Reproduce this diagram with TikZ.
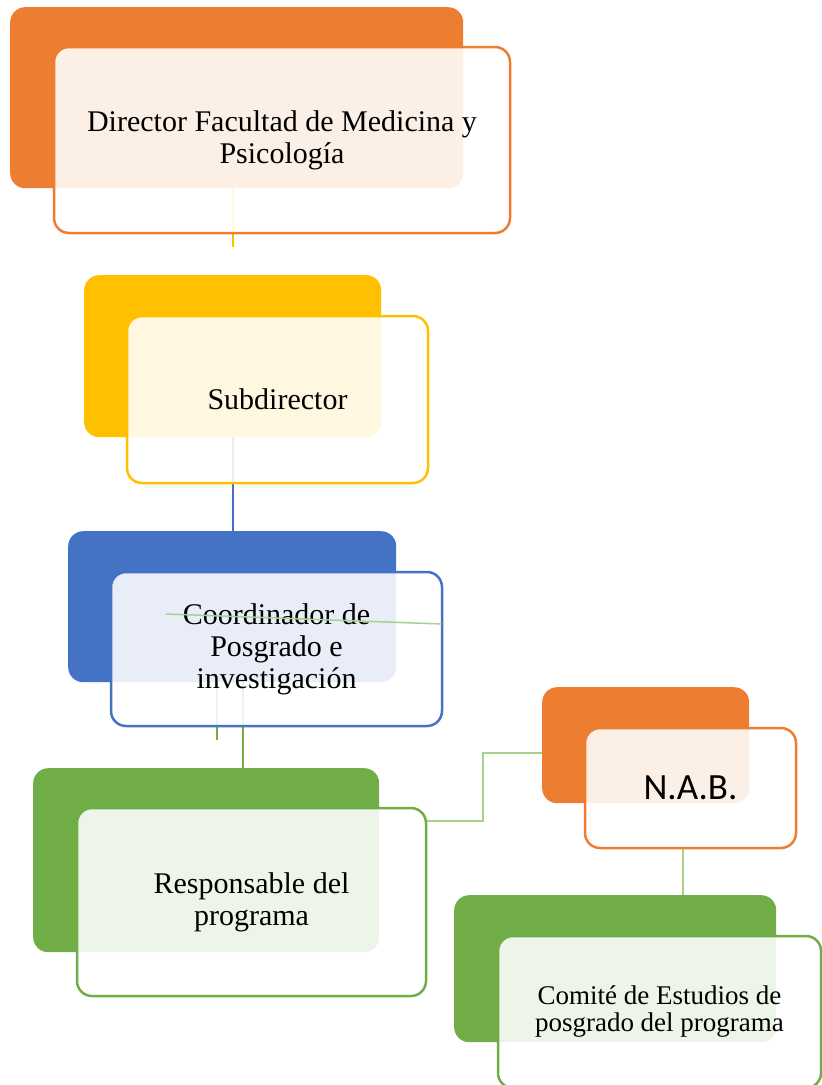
\documentclass[tikz,border=0pt]{standalone}
\usepackage{fontspec}
\setmainfont{Liberation Serif}
\newfontfamily\calib{Carlito}
\definecolor{orng}{HTML}{ED7D31}
\definecolor{yllw}{HTML}{FFC000}
\definecolor{blu}{HTML}{4472C4}
\definecolor{grn}{HTML}{70AD47}
\definecolor{lgrn}{HTML}{A9D18E}
\tikzset{
  backbox/.style={rectangle, rounded corners=15pt, fill=#1, draw=none, anchor=north west, inner sep=0pt},
  frontbox/.style={rectangle, rounded corners=15pt, draw=#1, line width=2.5pt, fill=white, fill opacity=0.88, text opacity=1, align=center, inner sep=0pt, font=\fontsize{30}{32}\selectfont},
  conn/.style={line width=2pt, draw=#1},
}
\begin{document}
\begin{tikzpicture}[x=1pt,y=-1pt]
\clip (0,0) rectangle (822,1085);
\fill[white] (0,0) rectangle (822,1085);
% back boxes
\node[backbox=orng, minimum width=453pt, minimum height=181pt] (dirback) at (10,7) {};
\node[backbox=yllw, minimum width=297pt, minimum height=162pt] (subback) at (84,275) {};
\node[backbox=blu, minimum width=328pt, minimum height=151pt] (coordback) at (68,531) {};
\node[backbox=grn, minimum width=346pt, minimum height=184pt] (respback) at (33,768) {};
\node[backbox=orng, minimum width=207pt, minimum height=116pt] (nabback) at (542,687) {};
\node[backbox=grn, minimum width=322pt, minimum height=147pt] (comback) at (454,895) {};
% connectors
\coordinate (c1) at (233,247);
\draw[conn=yllw] (dirback.south -| c1) -- (c1);
\coordinate (c2) at (233,500);
\draw[conn=blu] (subback.south -| c2) -- (coordback.north -| c2);
\coordinate (c3) at (243,700);
\draw[conn=grn] (coordback.south -| c3) -- (respback.north -| c3);
\coordinate (c4) at (217,740);
\draw[conn=grn] (coordback.south -| c4) -- (c4);
\coordinate (ra) at (427,821);
\coordinate (rb) at (483,753);
\coordinate (rc) at (683,870);
% front boxes
\node[frontbox=orng, minimum width=456pt, minimum height=186pt] (dirfront) at (282,140) {Director Facultad de Medicina y\\Psicología};
\node[frontbox=yllw, minimum width=301pt, minimum height=167pt] (subfront) at (277.5,399.5) {Subdirector};
\node[frontbox=blu, minimum width=331pt, minimum height=154pt] (coordfront) at (276.5,649) {Coordinador de\\Posgrado e\\investigación};
\node[frontbox=grn, minimum width=349pt, minimum height=188pt] (respfront) at (251.5,902) {Responsable del\\programa};
\node[frontbox=orng, minimum width=211pt, minimum height=120pt, font=\calib\fontsize{37}{40}\selectfont] (nabfront) at (690.5,788) {N.A.B.};
\node[frontbox=grn, minimum width=323pt, minimum height=152pt, font=\fontsize{27}{27}\selectfont] (comfront) at (659.5,1012) {Comité de Estudios de\\posgrado del programa};
\draw[conn=lgrn] (ra -| respfront.east) -| (rb) -- (rb -| nabback.west);
\draw[conn=lgrn] (nabfront.south -| rc) -- (comback.north -| rc);
% light green line across the coordinator box
\coordinate (x1) at (166,614);
\coordinate (x2) at (442,624);
\draw[line width=1.5pt, draw=lgrn] (x1) -- (x2);
\end{tikzpicture}
\end{document}
